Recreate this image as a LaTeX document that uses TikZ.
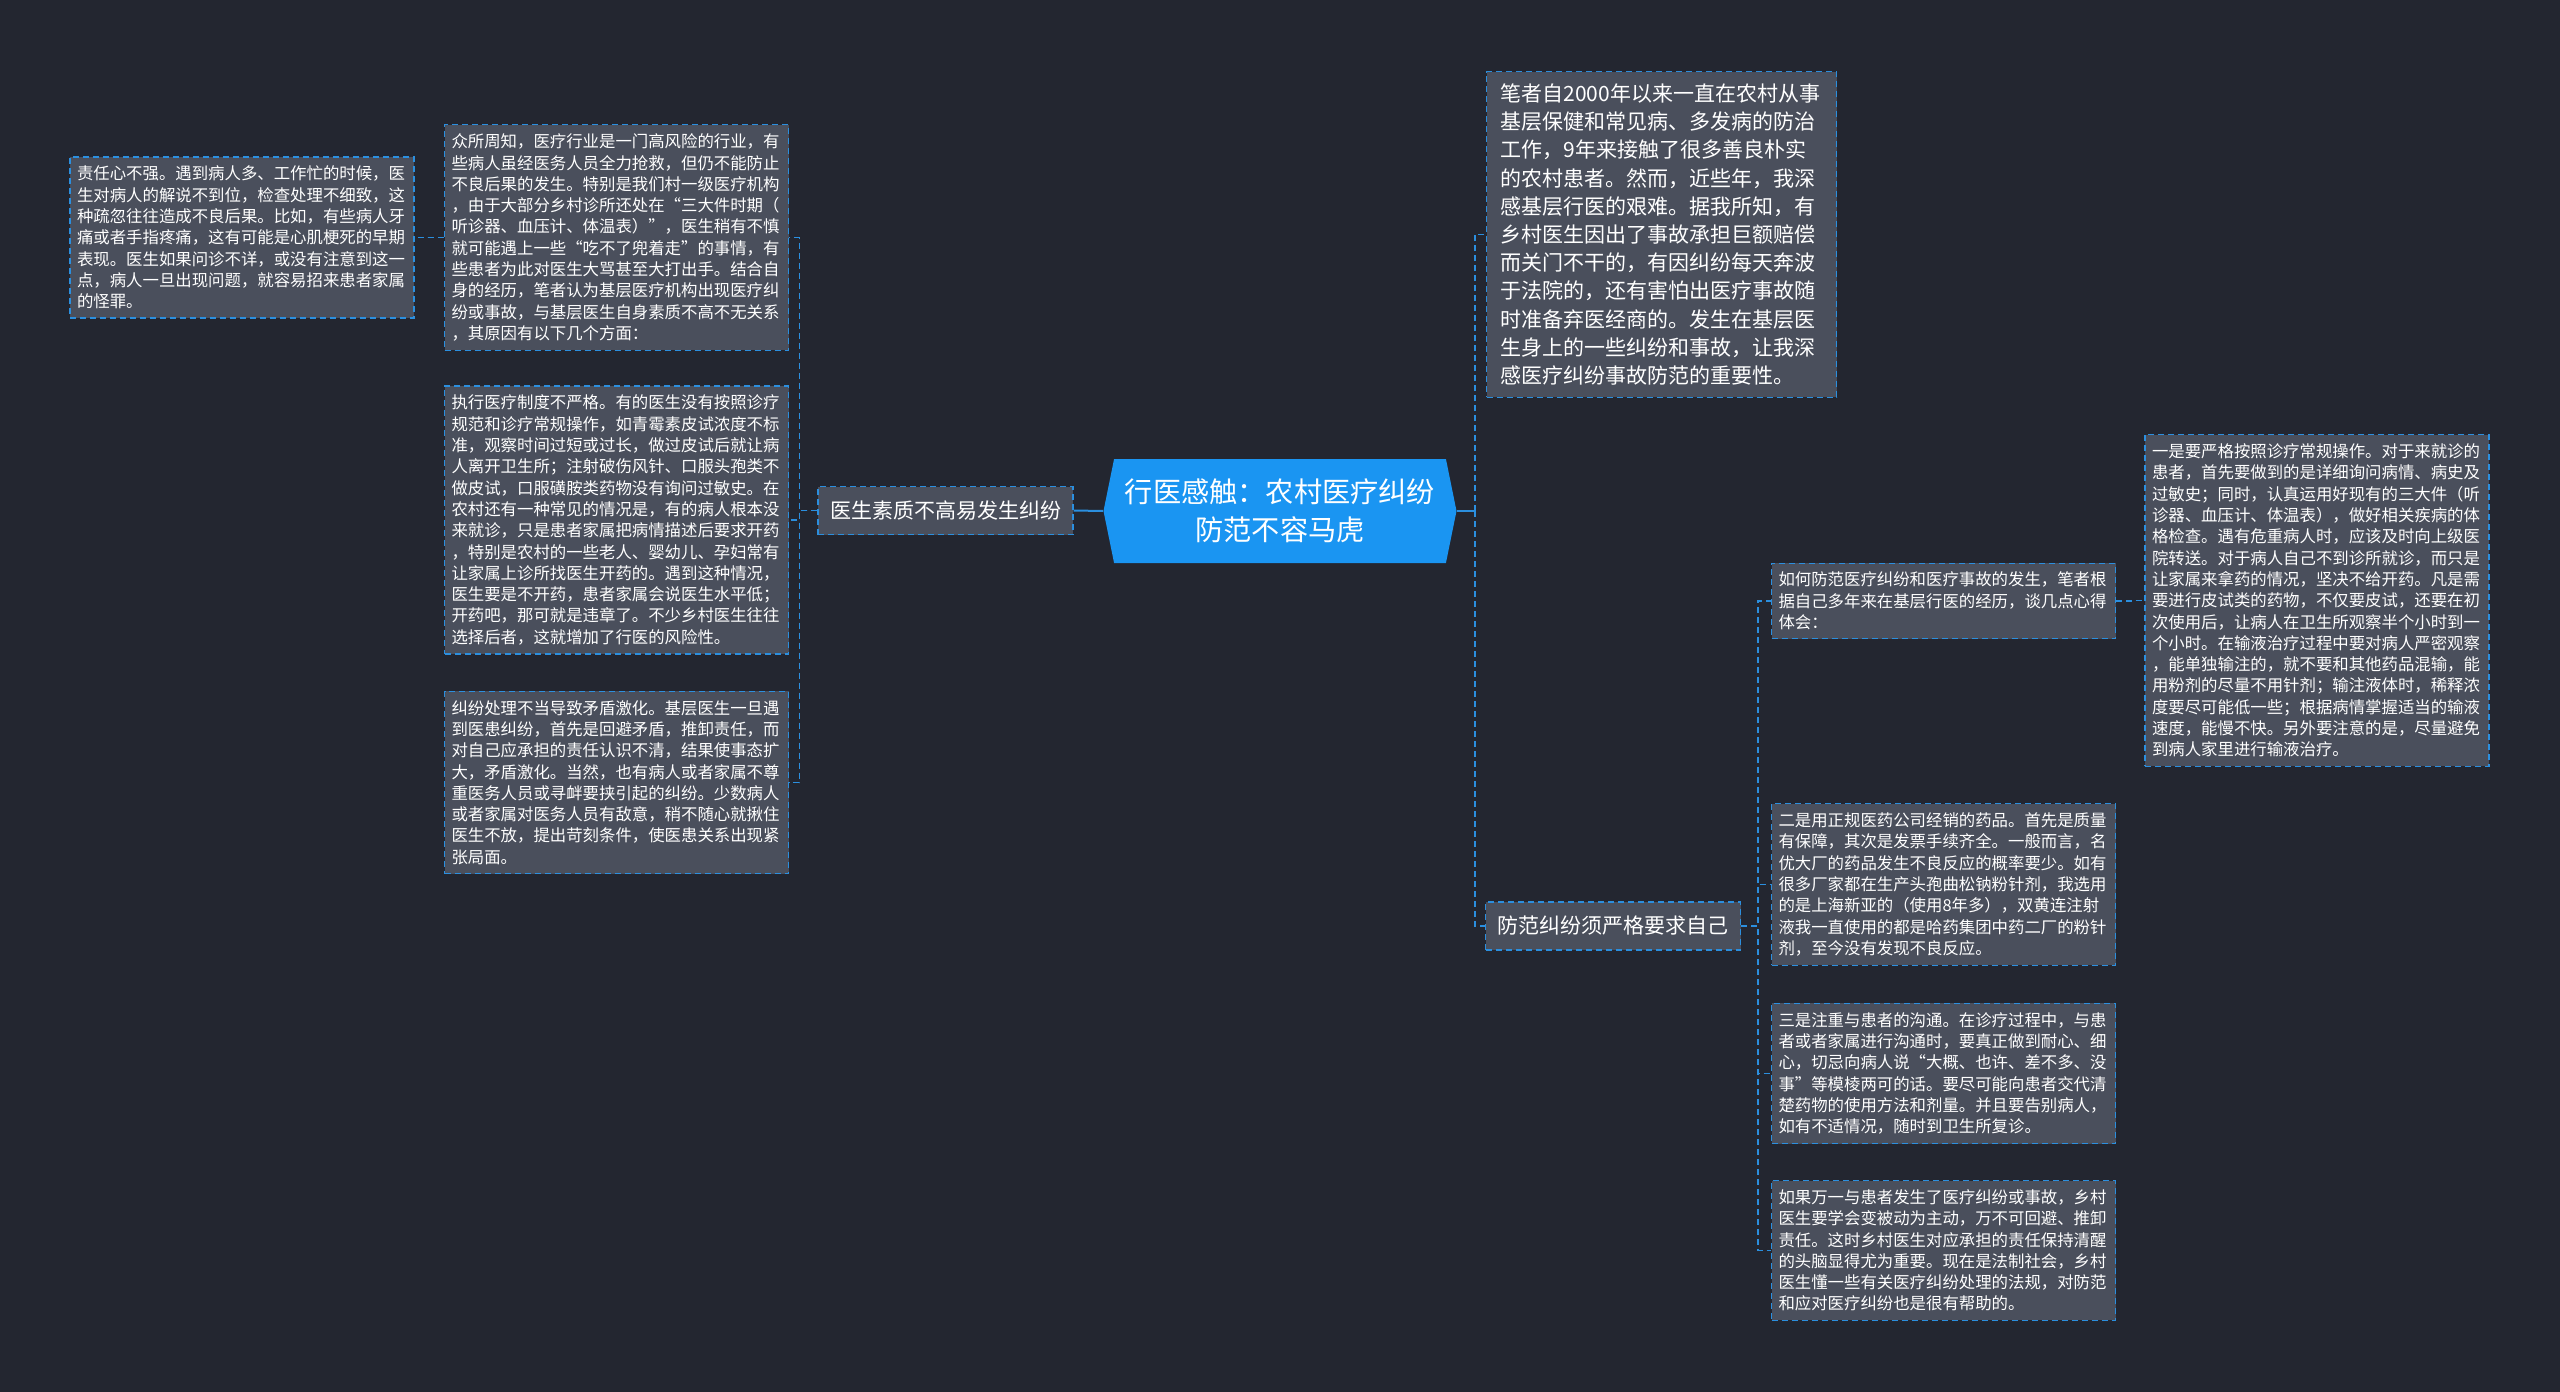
\documentclass[tikz,border=0pt]{standalone}
\usepackage{fontspec}
\setmainfont{Noto Sans CJK SC}
\usepackage{xcolor}
\usepackage{tikz}
\usetikzlibrary{shapes.symbols,positioning,calc}

\definecolor{bgdark}{HTML}{232630}
\definecolor{boxgrey}{HTML}{4A4F5C}
\definecolor{linkblue}{HTML}{2B8FDF}
\definecolor{rootblue}{HTML}{1A95F2}

\begin{document}
\begin{tikzpicture}[x=0.5pt, y=-0.5pt,
    every node/.style={text=white},
    topic/.style={shape=signal, signal to=east and west, signal pointer angle=157,
        fill=rootblue, minimum width=176.5pt, minimum height=52pt, align=center,
        font=\fontsize{14.1}{18.8}\selectfont},
    branch/.style={draw=linkblue, fill=boxgrey, dash pattern=on 3pt off 2pt,
        line width=0.6pt, inner xsep=6pt, minimum height=24pt,
        font=\fontsize{10.5}{13}\selectfont},
    leaf/.style={draw=linkblue, fill=boxgrey, dash pattern=on 3pt off 2pt,
        line width=0.6pt, text width=165pt, align=left, inner xsep=3.5pt, inner ysep=4.5pt,
        font=\fontsize{8.2}{10.65}\selectfont},
    bigleaf/.style={leaf, text width=161pt, inner xsep=7pt, inner ysep=6pt,
        font=\fontsize{10.5}{14.1}\selectfont},
    link/.style={draw=linkblue, line width=0.7pt, dash pattern=on 3pt off 2pt},
    trunk/.style={draw=linkblue, line width=1pt}]

    % Background
    \fill[bgdark] (0,0) rectangle (2560,1392);
    \useasboundingbox (0,0) rectangle (2560,1392);

    % Central topic
    \node[topic] (root) at (1280,511) {行医感触：农村医疗纠纷\\防范不容马虎};

    % Left branch
    \node[branch] (lb) at (945.5,510.5) {医生素质不高易发生纠纷};

    \node[leaf] (l1) at (616.5,237.5) {众所周知，医疗行业是一门高风险的行业，有\\
        些病人虽经医务人员全力抢救，但仍不能防止\\
        不良后果的发生。特别是我们村一级医疗机构\\
        ，由于大部分乡村诊所还处在“三大件时期（\\
        听诊器、血压计、体温表）”，医生稍有不慎\\
        就可能遇上一些“吃不了兜着走”的事情，有\\
        些患者为此对医生大骂甚至大打出手。结合自\\
        身的经历，笔者认为基层医疗机构出现医疗纠\\
        纷或事故，与基层医生自身素质不高不无关系\\
        ，其原因有以下几个方面：};
    \node[leaf] (l0) at (242,237.5) {责任心不强。遇到病人多、工作忙的时候，医\\
        生对病人的解说不到位，检查处理不细致，这\\
        种疏忽往往造成不良后果。比如，有些病人牙\\
        痛或者手指疼痛，这有可能是心肌梗死的早期\\
        表现。医生如果问诊不详，或没有注意到这一\\
        点，病人一旦出现问题，就容易招来患者家属\\
        的怪罪。};
    \node[leaf] (l2) at (616.5,520) {执行医疗制度不严格。有的医生没有按照诊疗\\
        规范和诊疗常规操作，如青霉素皮试浓度不标\\
        准，观察时间过短或过长，做过皮试后就让病\\
        人离开卫生所；注射破伤风针、口服头孢类不\\
        做皮试，口服磺胺类药物没有询问过敏史。在\\
        农村还有一种常见的情况是，有的病人根本没\\
        来就诊，只是患者家属把病情描述后要求开药\\
        ，特别是农村的一些老人、婴幼儿、孕妇常有\\
        让家属上诊所找医生开药的。遇到这种情况，\\
        医生要是不开药，患者家属会说医生水平低；\\
        开药吧，那可就是违章了。不少乡村医生往往\\
        选择后者，这就增加了行医的风险性。};
    \node[leaf] (l3) at (616.5,782.5) {纠纷处理不当导致矛盾激化。基层医生一旦遇\\
        到医患纠纷，首先是回避矛盾，推卸责任，而\\
        对自己应承担的责任认识不清，结果使事态扩\\
        大，矛盾激化。当然，也有病人或者家属不尊\\
        重医务人员或寻衅要挟引起的纠纷。少数病人\\
        或者家属对医务人员有敌意，稍不随心就揪住\\
        医生不放，提出苛刻条件，使医患关系出现紧\\
        张局面。};

    % Right side
    \node[bigleaf] (r0) at (1661.5,234.5) {笔者自2000年以来一直在农村从事\\
        基层保健和常见病、多发病的防治\\
        工作，9年来接触了很多善良朴实\\
        的农村患者。然而，近些年，我深\\
        感基层行医的艰难。据我所知，有\\
        乡村医生因出了事故承担巨额赔偿\\
        而关门不干的，有因纠纷每天奔波\\
        于法院的，还有害怕出医疗事故随\\
        时准备弃医经商的。发生在基层医\\
        生身上的一些纠纷和事故，让我深\\
        感医疗纠纷事故防范的重要性。};
    \node[branch] (rb) at (1613,926) {防范纠纷须严格要求自己};

    \node[leaf] (r1) at (1943.5,601) {如何防范医疗纠纷和医疗事故的发生，笔者根\\
        据自己多年来在基层行医的经历，谈几点心得\\
        体会：};
    \node[leaf] (r1a) at (2317,600.5) {一是要严格按照诊疗常规操作。对于来就诊的\\
        患者，首先要做到的是详细询问病情、病史及\\
        过敏史；同时，认真运用好现有的三大件（听\\
        诊器、血压计、体温表），做好相关疾病的体\\
        格检查。遇有危重病人时，应该及时向上级医\\
        院转送。对于病人自己不到诊所就诊，而只是\\
        让家属来拿药的情况，坚决不给开药。凡是需\\
        要进行皮试类的药物，不仅要皮试，还要在初\\
        次使用后，让病人在卫生所观察半个小时到一\\
        个小时。在输液治疗过程中要对病人严密观察\\
        ，能单独输注的，就不要和其他药品混输，能\\
        用粉剂的尽量不用针剂；输注液体时，稀释浓\\
        度要尽可能低一些；根据病情掌握适当的输液\\
        速度，能慢不快。另外要注意的是，尽量避免\\
        到病人家里进行输液治疗。};
    \node[leaf] (r2) at (1943.5,884.5) {二是用正规医药公司经销的药品。首先是质量\\
        有保障，其次是发票手续齐全。一般而言，名\\
        优大厂的药品发生不良反应的概率要少。如有\\
        很多厂家都在生产头孢曲松钠粉针剂，我选用\\
        的是上海新亚的（使用8年多），双黄连注射\\
        液我一直使用的都是哈药集团中药二厂的粉针\\
        剂，至今没有发现不良反应。};
    \node[leaf] (r3) at (1943.5,1073.5) {三是注重与患者的沟通。在诊疗过程中，与患\\
        者或者家属进行沟通时，要真正做到耐心、细\\
        心，切忌向病人说“大概、也许、差不多、没\\
        事”等模棱两可的话。要尽可能向患者交代清\\
        楚药物的使用方法和剂量。并且要告别病人，\\
        如有不适情况，随时到卫生所复诊。};
    \node[leaf] (r4) at (1943.5,1250.5) {如果万一与患者发生了医疗纠纷或事故，乡村\\
        医生要学会变被动为主动，万不可回避、推卸\\
        责任。这时乡村医生对应承担的责任保持清醒\\
        的头脑显得尤为重要。现在是法制社会，乡村\\
        医生懂一些有关医疗纠纷处理的法规，对防范\\
        和应对医疗纠纷也是很有帮助的。};

    % Connectors
    \coordinate (rs) at ($(root.east)+(18,0)$);
    \draw[trunk] (root.west) -- (lb.east);
    \draw[trunk] (root.east) -- (rs);
    \draw[link] (lb.west) -- ++(-18,0) |- (l1.east);
    \draw[link] (lb.west) -- ++(-18,0) |- (l2.east);
    \draw[link] (lb.west) -- ++(-18,0) |- (l3.east);
    \draw[link] (l1.west) -- ++(-16,0) |- (l0.east);
    \draw[link] (rs) |- (r0.west);
    \draw[link] (rs) |- (rb.west);
    \draw[link] (rb.east) -- ++(17,0) |- (r1.west);
    \draw[link] (rb.east) -- ++(17,0) |- (r2.west);
    \draw[link] (rb.east) -- ++(17,0) |- (r3.west);
    \draw[link] (rb.east) -- ++(17,0) |- (r4.west);
    \draw[link] (r1.east) -- ++(15,0) |- (r1a.west);

\end{tikzpicture}
\end{document}
